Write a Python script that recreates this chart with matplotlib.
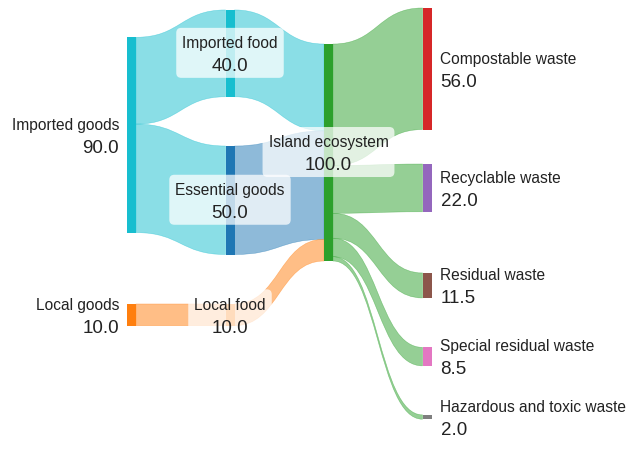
import matplotlib.pyplot as plt
from matplotlib.path import Path
from matplotlib.patches import PathPatch, FancyBboxPatch, Rectangle
from matplotlib.transforms import IdentityTransform, Bbox
from matplotlib.colors import to_rgba

plt.rcParams['font.family'] = ['Liberation Sans', 'DejaVu Sans']

# nodes
node_names = ["Imported goods", "Local goods", "Imported food", "Essential goods",
              "Local food", "Island ecosystem", "Compostable waste", "Recyclable waste",
              "Residual waste", "Special residual waste", "Hazardous and toxic waste"]
node_colors = ["#17becf", "#ff7f0e", "#17becf", "#1f77b4", "#ff7f0e", "#2ca02c",
               "#d62728", "#9467bd", "#8c564b", "#e377c2", "#7f7f7f"]

# links
link_source = [0, 0, 1, 2, 3, 4, 5, 5, 5, 5, 5]
link_target = [2, 3, 4, 5, 5, 5, 6, 7, 8, 9, 10]
link_value = [40, 50, 10, 40, 50, 10, 56, 22, 11.5, 8.5, 2]

# layout: column of each node and its top offset (flow units)
node_col = [0, 0, 1, 1, 1, 2, 3, 3, 3, 3, 3]
node_top = [13.5, 136.4, 0.9, 63.6, 136.4, 16.6, 0, 71.9, 122.1, 156.4, 187.5]

W, H = 642, 460
col_px = 98.5     # pixels between columns
unit_px = 2.17    # pixels per flow unit
left_px = 127
top_px = 9
NW = 9 / col_px   # node width in column units
PT = 72 / 100     # px -> points

fig = plt.figure(figsize=(W / 100, H / 100), dpi=100)
ax = fig.add_axes([0, 0, 1, 1])
ax.set_xlim(-left_px / col_px, (W - left_px) / col_px)
ax.set_ylim((H - top_px) / unit_px, -top_px / unit_px)
ax.axis('off')

n = len(node_names)
val_in = [0] * n
val_out = [0] * n
for s, t, v in zip(link_source, link_target, link_value):
    val_out[s] += v
    val_in[t] += v
node_val = [max(a, b) for a, b in zip(val_in, val_out)]

# links
off_out = list(node_top)
off_in = list(node_top)
for s, t, v in zip(link_source, link_target, link_value):
    x0 = node_col[s] + NW
    x1 = node_col[t]
    xm = (x0 + x1) / 2
    ys = off_out[s]
    yt = off_in[t]
    off_out[s] += v
    off_in[t] += v
    verts = [(x0, ys), (xm, ys), (xm, yt), (x1, yt),
             (x1, yt + v), (xm, yt + v), (xm, ys + v), (x0, ys + v), (x0, ys)]
    codes = [Path.MOVETO, Path.CURVE4, Path.CURVE4, Path.CURVE4,
             Path.LINETO, Path.CURVE4, Path.CURVE4, Path.CURVE4, Path.CLOSEPOLY]
    c = to_rgba(node_colors[s], 0.5)
    ax.add_patch(PathPatch(Path(verts, codes), fc=c, ec=c, lw=0.4, zorder=1))

# nodes
for i in range(n):
    ax.add_patch(Rectangle((node_col[i], node_top[i]), NW, node_val[i],
                           fc=node_colors[i], ec='none', zorder=2))

# labels
txt_kw = dict(color='#222222', textcoords='offset points', zorder=6)
boxes = []
for i in range(n):
    cy = node_top[i] + node_val[i] / 2
    if node_col[i] == 0:
        xy, dx, ha = (node_col[i], cy), -8 * PT, 'right'
    elif node_col[i] == 3:
        xy, dx, ha = (node_col[i] + NW, cy), 9 * PT, 'left'
    else:
        xy, dx, ha = (node_col[i] + NW / 2, cy), 0, 'center'
    t1 = ax.annotate(node_names[i], xy, xytext=(dx, 6.2 * PT), ha=ha,
                     va='baseline', fontsize=11.2, **txt_kw)
    t2 = ax.annotate(f"{node_val[i]:.1f}", xy, xytext=(dx, -16.8 * PT), ha=ha,
                     va='baseline', fontsize=13.5, **txt_kw)
    if ha == 'center':
        boxes.append((xy, t1, t2))

fig.canvas.draw()
r = fig.canvas.get_renderer()
for xy, t1, t2 in boxes:
    bb = Bbox.union([t1.get_window_extent(r), t2.get_window_extent(r)])
    cx, cy = ax.transData.transform(xy)
    x0 = bb.x0 - 6
    w = bb.width + 12
    ax.add_artist(FancyBboxPatch((x0, cy - 24.5), w, 50,
                                 boxstyle="round,pad=0,rounding_size=5",
                                 transform=IdentityTransform(), fc='white',
                                 ec='none', alpha=0.73, zorder=4))

fig.savefig("out.png", dpi=100)
